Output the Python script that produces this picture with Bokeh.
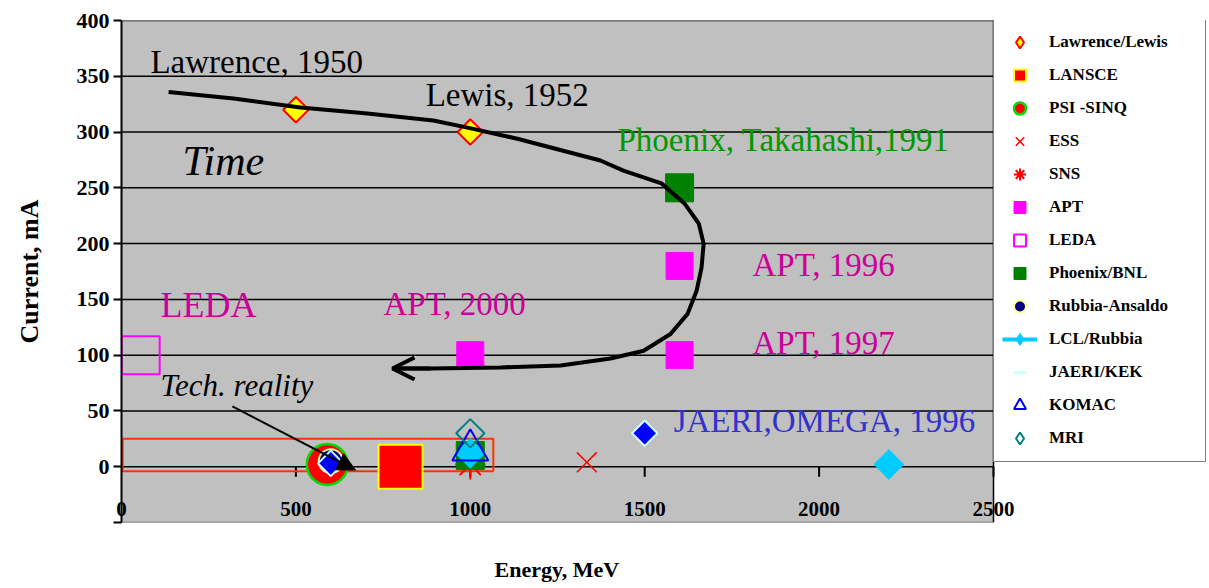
from math import pi
from bokeh.plotting import figure
from bokeh.models import (FixedTicker, Legend, LegendItem, Arrow, OpenHead,
                          NormalHead, Range1d, Title)
from bokeh.core.properties import value
from bokeh.embed import file_html
from bokeh.resources import INLINE

# ---------------- data ----------------
law_x = [500, 1000];        law_y = [320, 300]
lansce_x = [800];           lansce_y = [0]
psi_x = [590];              psi_y = [2]
ess_x = [1334];             ess_y = [4]
sns_x = [1000];             sns_y = [2]
apt_x = [1000, 1600, 1600]; apt_y = [100, 100, 180]
leda_x = [55];              leda_y = [100]
phoenix_x = [1600, 1000];   phoenix_y = [250, 10]
rubbia_x = [600];           rubbia_y = [5]
lcl_x = [1000, 2200];       lcl_y = [12, 2]
jaeri_x = [600, 1500];      jaeri_y = [3, 30]
komac_x = [1000];           komac_y = [15]
mri_x = [1000];             mri_y = [30]

x_ticks = [0, 500, 1000, 1500, 2000, 2500]
y_ticks = [0, 50, 100, 150, 200, 250, 300, 350, 400]
x_min, x_max = 0, 2500
y_min, y_max = -50, 400

# hand-drawn "time" trend curve
trend_x = [135, 321, 513, 705, 894, 992, 1135, 1373, 1439, 1548, 1614, 1655,
           1669, 1663, 1649, 1623, 1574, 1497, 1402, 1259, 1087, 886, 777]
trend_y = [336, 330, 322, 316.6, 310.3, 304, 294, 274.5, 265.5, 254, 236, 218,
           200, 178.5, 158, 137, 119, 104, 97, 90.8, 89, 88, 88]

# "technological reality" box and arrow
box_left, box_right, box_bottom, box_top = 3, 1066, -4, 25
tech_arrow_start = (318, 54)
tech_arrow_end = (671, -3)

# text annotations
black_labels = ["Lawrence, 1950", "Lewis, 1952"]
black_x = [83, 872]
black_y = [363, 333]
green_labels = ["Phoenix, Takahashi,1991"]
green_x = [1422]; green_y = [293]
apt_labels = ["APT, 1996", "APT, 1997", "APT, 2000"]
apt_lx = [1809, 1809, 751]; apt_ly = [181, 111, 146]
leda_label = ["LEDA"]; leda_lx = [112]; leda_ly = [145]
blue_labels = ["JAERI,OMEGA, 1996"]; blue_x = [1583]; blue_y = [41]
time_label = ["Time"]; time_x = [175]; time_y = [274]
tech_label = ["Tech. reality"]; tech_x = [112]; tech_y = [73]

FONT = "Liberation Serif"

# layout: gray plot area is 872 px wide; the frame continues to the right
# edge of the figure so that the legend can sit beside the plot area
W, H = 1207, 587
LEFT, TOP, BOTTOM = 121, 20, 65
AREA_W = 872
frame_w = W - LEFT
x_end = x_max * frame_w / AREA_W

p = figure(width=W, height=H, x_range=Range1d(x_min, x_end),
           y_range=Range1d(y_min, y_max), output_backend="svg",
           toolbar_location=None, min_border_left=LEFT, min_border_right=0,
           min_border_top=TOP, min_border_bottom=BOTTOM,
           background_fill_color="white", border_fill_color="white")
p.outline_line_color = None

# gray plot area
p.quad(left=[x_min], right=[x_max], bottom=[y_min], top=[y_max],
       fill_color="#C0C0C0", line_color=None)
# horizontal grid lines restricted to the plot area
p.segment(x0=[x_min] * len(y_ticks), y0=y_ticks,
          x1=[x_max] * len(y_ticks), y1=y_ticks,
          line_color="black", line_width=1.5)
# right and bottom edges of the plot area
p.segment(x0=[x_max], y0=[y_min], x1=[x_max], y1=[y_max],
          line_color="black", line_width=1.5)
p.segment(x0=[x_min], y0=[y_min], x1=[x_max], y1=[y_min],
          line_color="#606060", line_width=1.5)

# axes
p.xaxis.ticker = FixedTicker(ticks=x_ticks)
p.xaxis.axis_line_color = None
p.xaxis.major_tick_line_color = None
p.xaxis.minor_tick_line_color = None
p.xaxis.major_label_standoff = -27
p.xaxis.major_label_text_font = FONT
p.xaxis.major_label_text_font_style = "bold"
p.xaxis.major_label_text_font_size = "21px"
p.xaxis.major_label_text_color = "black"
# blank axis label only reserves vertical room for the title below it
p.xaxis.axis_label = " "
p.xaxis.axis_label_standoff = 13
p.xaxis.axis_label_text_font = FONT
p.xaxis.axis_label_text_font_size = "20px"

x_title = "Energy, MeV"
p.add_layout(Title(text=x_title, align="left", vertical_align="top",
                   offset=(AREA_W / 2) - 63, standoff=0,
                   text_font=FONT, text_font_size="22px",
                   text_font_style="bold", text_color="black"), "below")

p.yaxis.ticker = FixedTicker(ticks=[y_min] + y_ticks)
p.yaxis.major_label_overrides = {y_min: ""}
p.yaxis.axis_line_color = "black"
p.yaxis.axis_line_width = 2
p.yaxis.major_tick_line_color = "black"
p.yaxis.major_tick_line_width = 2
p.yaxis.major_tick_out = 8
p.yaxis.major_tick_in = 0
p.yaxis.minor_tick_line_color = None
p.yaxis.major_label_standoff = 4
p.yaxis.major_label_text_font = FONT
p.yaxis.major_label_text_font_style = "bold"
p.yaxis.major_label_text_font_size = "22px"
p.yaxis.major_label_text_color = "black"
p.yaxis.axis_label = "Current, mA"
p.yaxis.axis_label_standoff = 30
p.yaxis.axis_label_text_font = FONT
p.yaxis.axis_label_text_font_style = "bold"
p.yaxis.axis_label_text_font_size = "26px"
p.yaxis.axis_label_text_color = "black"

p.xgrid.visible = False
p.ygrid.visible = False

# x tick marks on the y = 0 line
p.segment(x0=x_ticks[1:], y0=[0] * 5, x1=x_ticks[1:], y1=[-9] * 5,
          line_color="black", line_width=2)

# tech reality box
p.quad(left=[box_left], right=[box_right], bottom=[box_bottom], top=[box_top],
       fill_color=None, line_color="#FF3300", line_width=2)


def legend_only(r):
    # drawn only in the legend (muted renderer whose muted glyph is invisible)
    r.muted = True
    return r


# series
r_law = p.scatter(law_x, law_y, marker="square", angle=pi / 4, size=18,
                  fill_color="yellow", line_color="red", line_width=2)
r_lansce = p.scatter(lansce_x, lansce_y, marker="square", size=44,
                     fill_color="red", line_color="yellow", line_width=2)
r_psi = p.scatter(psi_x, psi_y, marker="circle", size=41,
                  fill_color="red", line_color="#00DD00", line_width=2.5)
r_ess = p.scatter(ess_x, ess_y, marker="x", size=28,
                  line_color="red", line_width=1.5)
r_sns = p.scatter(sns_x, sns_y, marker="asterisk", size=30,
                  line_color="red", line_width=2)
r_apt = p.scatter(apt_x, apt_y, marker="square", size=27,
                  fill_color="#FF00FF", line_color="#FF00FF", line_width=1)
r_leda = p.scatter(leda_x, leda_y, marker="square", size=38,
                   fill_color=None, line_color="#FF00FF", line_width=2)
r_phoenix = p.scatter(phoenix_x, phoenix_y, marker="square", size=28,
                      fill_color="#008000", line_color="#008000", line_width=1)
r_rubbia = p.scatter(rubbia_x, rubbia_y, marker="circle", size=24,
                     fill_color="#000080", line_color="#FFFF99", line_width=2)
r_lcl = p.scatter(lcl_x, lcl_y, marker="square", angle=pi / 4, size=21,
                  fill_color="#00CCFF", line_color="#00CCFF", line_width=1)
r_jaeri = p.scatter(jaeri_x, jaeri_y, marker="square", angle=pi / 4, size=18,
                    fill_color="#0000FF", line_color="#CCFFFF", line_width=2)
r_komac = p.scatter(komac_x, komac_y, marker="triangle", size=36,
                    fill_color=None, line_color="#0000FF", line_width=2)
r_mri = p.scatter(mri_x, mri_y, marker="square", angle=pi / 4, size=20,
                  fill_color=None, line_color="#008080", line_width=2)

# legend glyphs (legend markers are not rotated, so use diamonds there)
leg_law = legend_only(p.scatter(law_x, law_y, marker="diamond", size=18,
                                fill_color="yellow", line_color="red",
                                line_width=2, muted_alpha=0))
leg_lcl_line = legend_only(p.line(lcl_x, lcl_y, line_color="#00CCFF",
                                  line_width=4, muted_alpha=0))
leg_lcl = legend_only(p.scatter(lcl_x, lcl_y, marker="diamond", size=18,
                                fill_color="#00CCFF", line_color="#00CCFF",
                                line_width=1, muted_alpha=0))
leg_jaeri = legend_only(p.scatter(jaeri_x, jaeri_y, marker="dash", size=18,
                                  line_color="#CCFFFF", line_width=3,
                                  muted_alpha=0))
leg_mri = legend_only(p.scatter(mri_x, mri_y, marker="diamond", size=18,
                                fill_color=None, line_color="#008080",
                                line_width=2, muted_alpha=0))

# trend curve and arrows
p.line(trend_x, trend_y, line_color="black", line_width=4)
p.add_layout(Arrow(end=OpenHead(size=22, line_width=4, line_color="black"),
                   x_start=trend_x[-2], y_start=trend_y[-2],
                   x_end=trend_x[-1], y_end=trend_y[-1],
                   line_width=4, line_color="black"))
p.add_layout(Arrow(end=NormalHead(size=18, fill_color="black", line_color="black"),
                   x_start=tech_arrow_start[0], y_start=tech_arrow_start[1],
                   x_end=tech_arrow_end[0], y_end=tech_arrow_end[1],
                   line_width=2, line_color="black"))

# labels
def lbl(xs, ys, texts, color, size, style="normal"):
    p.text(x=xs, y=ys, text=texts, text_color=color,
           text_font=value(FONT), text_font_size=size,
           text_font_style=style, text_align="left",
           text_baseline="alphabetic")

lbl(black_x, black_y, black_labels, "black", "33px")
lbl(green_x, green_y, green_labels, "#009900", "33px")
lbl(apt_lx, apt_ly, apt_labels, "#CC0099", "33px")
lbl(leda_lx, leda_ly, leda_label, "#CC0099", "36px")
lbl(blue_x, blue_y, blue_labels, "#3333CC", "33px")
lbl(time_x, time_y, time_label, "black", "42px", "italic")
lbl(tech_x, tech_y, tech_label, "black", "31px", "italic")

# legend (placed just right of the gray plot area)
items = [
    LegendItem(label="Lawrence/Lewis", renderers=[leg_law]),
    LegendItem(label="LANSCE", renderers=[r_lansce]),
    LegendItem(label="PSI -SINQ", renderers=[r_psi]),
    LegendItem(label="ESS", renderers=[r_ess]),
    LegendItem(label="SNS", renderers=[r_sns]),
    LegendItem(label="APT", renderers=[r_apt]),
    LegendItem(label="LEDA", renderers=[r_leda]),
    LegendItem(label="Phoenix/BNL", renderers=[r_phoenix]),
    LegendItem(label="Rubbia-Ansaldo", renderers=[r_rubbia]),
    LegendItem(label="LCL/Rubbia", renderers=[leg_lcl_line, leg_lcl]),
    LegendItem(label="JAERI/KEK", renderers=[leg_jaeri]),
    LegendItem(label="KOMAC", renderers=[r_komac]),
    LegendItem(label="MRI", renderers=[leg_mri]),
]
legend = Legend(items=items, location=(AREA_W, 60), margin=0, padding=8,
                spacing=3, glyph_width=35, glyph_height=30, label_height=30,
                label_standoff=12, label_width=148,
                label_text_font=FONT, label_text_font_style="bold",
                label_text_font_size="17px", label_text_color="black",
                border_line_color="black", border_line_width=1.5,
                background_fill_color="white", background_fill_alpha=1)
p.add_layout(legend)

open("out.html", "w").write(file_html(p, INLINE))
